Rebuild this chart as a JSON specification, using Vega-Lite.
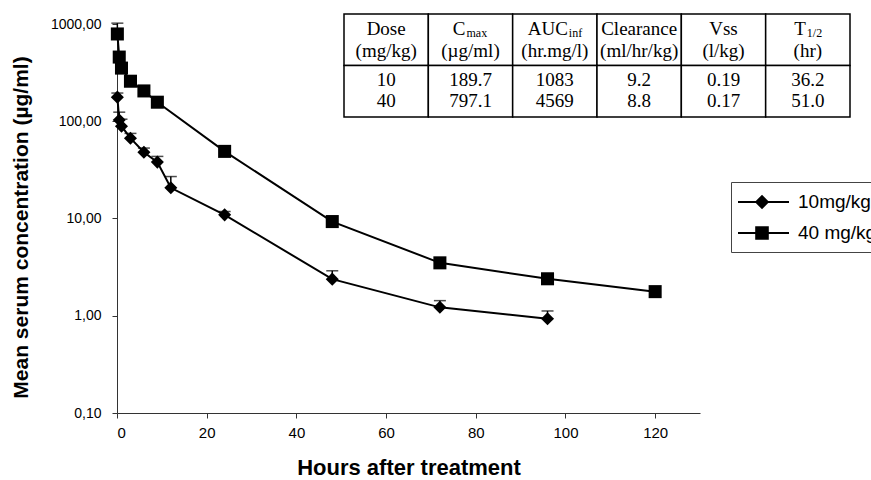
{
  "$schema": "https://vega.github.io/schema/vega-lite/v6.json",
  "autosize": "none",
  "width": 583,
  "height": 389,
  "padding": {"left": 117, "top": 24, "right": 171, "bottom": 67},
  "background": "white",
  "config": {
    "view": {"stroke": null},
    "font": "Liberation Sans",
    "axis": {
      "labelFont": "Liberation Sans",
      "labelFontSize": 14,
      "labelColor": "black",
      "titleFont": "Liberation Sans",
      "titleFontSize": 22,
      "titleFontWeight": "bold",
      "titleColor": "black",
      "domainColor": "#333",
      "tickColor": "#333",
      "tickSize": 5,
      "grid": false
    }
  },
  "layer": [
    {
      "data": {
        "values": [
          {"series": "10mg/kg", "t": 0.08, "c": 177, "up": 195},
          {"series": "10mg/kg", "t": 0.5, "c": 103, "up": 124},
          {"series": "10mg/kg", "t": 1, "c": 89, "up": 105},
          {"series": "10mg/kg", "t": 3, "c": 67, "up": 75},
          {"series": "10mg/kg", "t": 6, "c": 48, "up": 53},
          {"series": "10mg/kg", "t": 9, "c": 38, "up": 43.5},
          {"series": "10mg/kg", "t": 12, "c": 20.7, "up": 27},
          {"series": "10mg/kg", "t": 24, "c": 10.9, "up": 11.8},
          {"series": "10mg/kg", "t": 48, "c": 2.38, "up": 2.9},
          {"series": "10mg/kg", "t": 72, "c": 1.22, "up": 1.43},
          {"series": "10mg/kg", "t": 96, "c": 0.93, "up": 1.12},
          {"series": "40 mg/kg", "t": 0.08, "c": 790, "up": 1020},
          {"series": "40 mg/kg", "t": 0.5, "c": 457, "up": null},
          {"series": "40 mg/kg", "t": 1, "c": 352, "up": null},
          {"series": "40 mg/kg", "t": 3, "c": 258, "up": null},
          {"series": "40 mg/kg", "t": 6, "c": 205, "up": null},
          {"series": "40 mg/kg", "t": 9, "c": 157, "up": null},
          {"series": "40 mg/kg", "t": 24, "c": 49, "up": null},
          {"series": "40 mg/kg", "t": 48, "c": 9.3, "up": null},
          {"series": "40 mg/kg", "t": 72, "c": 3.5, "up": null},
          {"series": "40 mg/kg", "t": 96, "c": 2.4, "up": null},
          {"series": "40 mg/kg", "t": 120, "c": 1.77, "up": null}
        ]
      },
      "encoding": {
        "x": {
          "field": "t",
          "type": "quantitative",
          "scale": {"domain": [0, 130], "nice": false, "zero": false},
          "axis": {
            "values": [0, 20, 40, 60, 80, 100, 120],
            "title": "Hours after treatment",
            "labelFontSize": 15,
            "labelPadding": 7,
            "titleY": 54,
            "titleBaseline": "middle"
          }
        },
        "y": {
          "field": "c",
          "type": "quantitative",
          "scale": {"type": "log", "domain": [0.1, 1000], "nice": false},
          "axis": {
            "values": [0.1, 1, 10, 100, 1000],
            "labelExpr": "replace(format(datum.value, '.2f'), '.', ',')",
            "title": "Mean serum concentration (µg/ml)",
            "titleFontSize": 21,
            "labelPadding": 11,
            "titleX": -96,
            "titleY": 203,
            "titleAlign": "center",
            "titleBaseline": "middle",
            "titleAngle": -90
          }
        }
      },
      "layer": [
        {
          "transform": [{"filter": "datum.up != null"}],
          "mark": {"type": "rule", "color": "black", "strokeWidth": 1.5},
          "encoding": {"y2": {"field": "up"}}
        },
        {
          "transform": [{"filter": "datum.up != null"}],
          "mark": {"type": "tick", "color": "black", "thickness": 1.5, "size": 12, "orient": "horizontal"},
          "encoding": {"y": {"field": "up", "type": "quantitative"}}
        },
        {
          "mark": {"type": "line", "color": "black", "strokeWidth": 2},
          "encoding": {"detail": {"field": "series"}}
        },
        {
          "mark": {"type": "point", "filled": true, "color": "black", "size": 170, "opacity": 1},
          "encoding": {
            "shape": {
              "field": "series",
              "type": "nominal",
              "scale": {"domain": ["10mg/kg", "40 mg/kg"], "range": ["diamond", "square"]},
              "legend": null
            }
          }
        },
        {
          "transform": [{"filter": "false"}],
          "mark": {"type": "point", "filled": true, "color": "black", "opacity": 1},
          "encoding": {
            "shape": {
              "field": "series",
              "type": "nominal",
              "scale": {
                "domain": ["10mg/kg", "40 mg/kg"],
                "range": [
                  "M-1.3,-0.1L3.8,-0.1L3.8,0.1L-1.3,0.1ZM1.1,-0.72L1.82,0L1.1,0.72L0.38,0Z",
                  "M-1.3,-0.1L3.8,-0.1L3.8,0.1L-1.3,0.1ZM0.42,-0.68L1.78,-0.68L1.78,0.68L0.42,0.68Z"
                ]
              },
              "legend": {
                "orient": "none",
                "legendX": 614,
                "legendY": 158,
                "title": null,
                "strokeColor": "#444",
                "padding": 9,
                "symbolSize": 400,
                "symbolFillColor": "black",
                "symbolOpacity": 1,
                "labelFont": "Liberation Sans",
                "labelFontSize": 19,
                "labelColor": "black",
                "labelOffset": 36,
                "labelLimit": 300,
                "rowPadding": 9,
                "encode": {
                  "symbols": {
                    "update": {
                      "fill": {"value": "black"},
                      "fillOpacity": {"value": 1},
                      "stroke": {"value": "transparent"}
                    }
                  }
                }
              }
            }
          }
        }
      ],
      "resolve": {"scale": {"shape": "independent"}}
    },
    {
      "data": {
        "values": [
          {"col": "Dose", "h1": "Dose", "sub": "", "h2": "(mg/kg)", "v1": "10", "v2": "40"},
          {"col": "Cmax", "h1": "C", "sub": "max", "h2": "(µg/ml)", "v1": "189.7", "v2": "797.1"},
          {"col": "AUC", "h1": "AUC", "sub": "inf", "h2": "(hr.mg/l)", "v1": "1083", "v2": "4569"},
          {"col": "Clearance", "h1": "Clearance", "sub": "", "h2": "(ml/hr/kg)", "v1": "9.2", "v2": "8.8"},
          {"col": "Vss", "h1": "Vss", "sub": "", "h2": "(l/kg)", "v1": "0.19", "v2": "0.17"},
          {"col": "T", "h1": "T", "sub": "1/2", "h2": "(hr)", "v1": "36.2", "v2": "51.0"}
        ]
      },
      "encoding": {
        "x": {
          "field": "col",
          "type": "nominal",
          "scale": {"type": "band", "domain": ["Dose", "Cmax", "AUC", "Clearance", "Vss", "T"], "range": [227, 733], "paddingInner": 0, "paddingOuter": 0},
          "axis": null
        }
      },
      "layer": [
        {
          "mark": {"type": "rect", "fill": "white", "stroke": "black", "strokeWidth": 1.5},
          "encoding": {
            "y": {"datum": "header", "type": "nominal", "scale": {"type": "band", "domain": ["header", "data"], "range": [-10, 93], "paddingInner": 0, "paddingOuter": 0}, "axis": null}
          }
        },
        {
          "mark": {"type": "rect", "fill": "white", "stroke": "black", "strokeWidth": 1.5},
          "encoding": {"y": {"datum": "data", "type": "nominal"}}
        },
        {
          "transform": [{"filter": "datum.sub == ''"}],
          "mark": {"type": "text", "font": "Liberation Serif", "fontSize": 19, "color": "black", "dy": -11},
          "encoding": {"y": {"datum": "header", "type": "nominal"}, "text": {"field": "h1"}}
        },
        {
          "transform": [{"filter": "datum.col == 'Cmax'"}],
          "mark": {"type": "text", "font": "Liberation Serif", "fontSize": 19, "color": "black", "dy": -11, "align": "right", "dx": -5},
          "encoding": {"y": {"datum": "header", "type": "nominal"}, "text": {"field": "h1"}}
        },
        {
          "transform": [{"filter": "datum.col == 'Cmax'"}],
          "mark": {"type": "text", "font": "Liberation Serif", "fontSize": 12, "color": "black", "dy": -7, "align": "left", "dx": -4},
          "encoding": {"y": {"datum": "header", "type": "nominal"}, "text": {"field": "sub"}}
        },
        {
          "transform": [{"filter": "datum.col == 'AUC'"}],
          "mark": {"type": "text", "font": "Liberation Serif", "fontSize": 19, "color": "black", "dy": -11, "align": "right", "dx": 13},
          "encoding": {"y": {"datum": "header", "type": "nominal"}, "text": {"field": "h1"}}
        },
        {
          "transform": [{"filter": "datum.col == 'AUC'"}],
          "mark": {"type": "text", "font": "Liberation Serif", "fontSize": 12, "color": "black", "dy": -7, "align": "left", "dx": 14},
          "encoding": {"y": {"datum": "header", "type": "nominal"}, "text": {"field": "sub"}}
        },
        {
          "transform": [{"filter": "datum.col == 'T'"}],
          "mark": {"type": "text", "font": "Liberation Serif", "fontSize": 19, "color": "black", "dy": -11, "align": "right", "dx": -2},
          "encoding": {"y": {"datum": "header", "type": "nominal"}, "text": {"field": "h1"}}
        },
        {
          "transform": [{"filter": "datum.col == 'T'"}],
          "mark": {"type": "text", "font": "Liberation Serif", "fontSize": 12, "color": "black", "dy": -7, "align": "left", "dx": -1},
          "encoding": {"y": {"datum": "header", "type": "nominal"}, "text": {"field": "sub"}}
        },
        {
          "mark": {"type": "text", "font": "Liberation Serif", "fontSize": 19, "color": "black", "dy": 11},
          "encoding": {"y": {"datum": "header", "type": "nominal"}, "text": {"field": "h2"}}
        },
        {
          "mark": {"type": "text", "font": "Liberation Serif", "fontSize": 19, "color": "black", "dy": -11},
          "encoding": {"y": {"datum": "data", "type": "nominal"}, "text": {"field": "v1"}}
        },
        {
          "mark": {"type": "text", "font": "Liberation Serif", "fontSize": 19, "color": "black", "dy": 10},
          "encoding": {"y": {"datum": "data", "type": "nominal"}, "text": {"field": "v2"}}
        }
      ]
    }
  ],
  "resolve": {"scale": {"x": "independent", "y": "independent"}}
}
